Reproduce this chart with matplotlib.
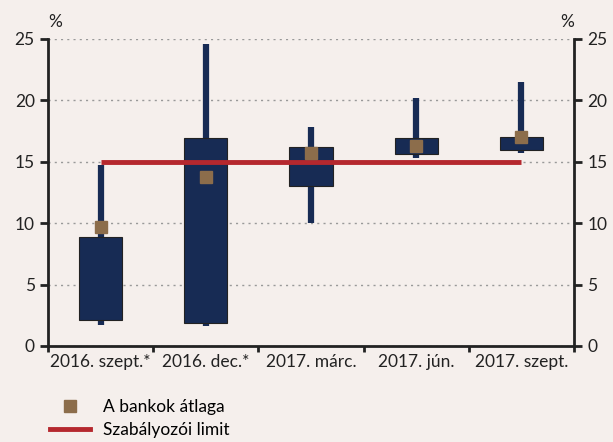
import matplotlib
matplotlib.use("Agg")
import matplotlib.pyplot as plt
from matplotlib.lines import Line2D
import numpy as np

# data
categories = ["2016. szept.*", "2016. dec.*", "2017. márc.", "2017. jún.", "2017. szept."]
whisker_min = [1.7, 1.6, 10.0, 15.3, 15.7]
whisker_max = [14.7, 24.6, 17.8, 20.2, 21.5]
box_low = [2.1, 1.85, 13.0, 15.6, 15.95]
box_high = [8.85, 16.95, 16.2, 16.95, 17.0]
bank_avg = [9.7, 13.8, 15.75, 16.3, 17.05]
limit = [15, 15, 15, 15, 15]

bg = "#F5EFEC"
navy = "#172B54"
brown = "#8C6D4B"
red = "#B5282E"

plt.rcParams["font.family"] = ["Lato", "DejaVu Sans"]

fig = plt.figure(figsize=(6.13, 4.42), dpi=100, facecolor=bg)
ax = fig.add_axes([0.0783, 0.2172, 0.8581, 0.6946], facecolor=bg)

x = np.arange(len(categories))

ax.vlines(x, whisker_min, whisker_max, color=navy, lw=4.5, zorder=2)
ax.bar(x, np.array(box_high) - np.array(box_low), bottom=box_low, width=0.41,
       color=navy, edgecolor="#222222", lw=0.8, zorder=3)
ax.plot(x, limit, color=red, lw=3.5, solid_capstyle="butt", zorder=4)
ax.plot(x, bank_avg, ls="none", marker="s", ms=9, color=brown, zorder=5)

ax.set_xlim(-0.5, len(categories) - 0.5)
ax.set_ylim(0, 25)
ax.set_yticks([0, 5, 10, 15, 20, 25])
ax.set_xticks(x)
ax.set_xticklabels(categories)
ax.set_xticks(np.arange(-0.5, len(categories)), minor=True)
ax.tick_params(axis="x", which="major", length=0, pad=6, labelsize=12.5, colors="#222222")
ax.tick_params(axis="x", which="minor", length=4, width=2, direction="out", color="#222222")
ax.tick_params(axis="y", length=6, width=2, direction="out", labelsize=12.5, colors="#222222",
               right=True, labelright=True)

ax.grid(axis="y", ls=(0, (1.5, 3)), color="#999999", lw=1)
ax.set_axisbelow(True)

ax.spines["top"].set_visible(False)
for s in ["left", "right", "bottom"]:
    ax.spines[s].set_linewidth(2)
    ax.spines[s].set_color("#222222")

fig.text(0.09, 0.95, "%", fontsize=12.5, color="#222222", va="center", ha="center")
fig.text(0.925, 0.95, "%", fontsize=12.5, color="#222222", va="center", ha="center")

handles = [
    Line2D([], [], ls="none", marker="s", ms=9, color=brown),
    Line2D([], [], color=red, lw=3.5),
]
fig.legend(handles, ["A bankok átlaga", "Szabályozói limit"], loc="upper left",
           bbox_to_anchor=(0.071, 0.112), frameon=False, fontsize=12.5,
           handlelength=2.3, handletextpad=0.7, labelspacing=0.38, borderaxespad=0)

fig.savefig("out.png", dpi=100, facecolor=bg)
